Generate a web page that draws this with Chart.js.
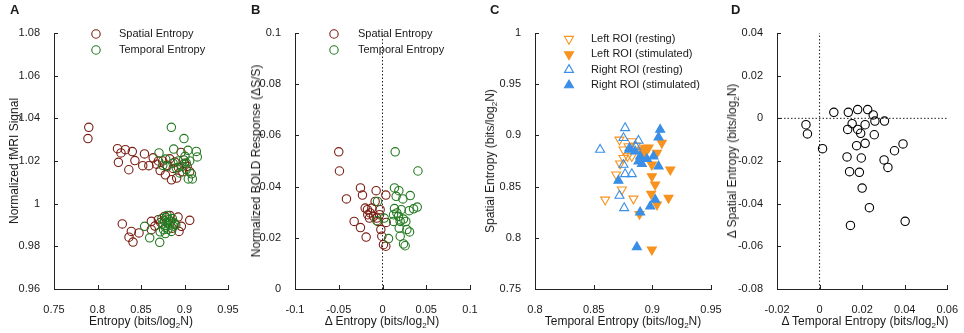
<!DOCTYPE html>
<html>
<head>
<meta charset="utf-8">
<script src="https://cdn.jsdelivr.net/npm/chart.js@4.4.1/dist/chart.umd.min.js"></script>
<style>
  body { margin: 0; background: #fff; width: 964px; height: 333px; position: relative; overflow: hidden;
         font-family: "Liberation Sans", Arial, sans-serif; color: #1a1a1a; }
  canvas { position: absolute; left: 0; top: 0; }
  .lbl { position: absolute; font-size: 12px; white-space: nowrap; transform: translate(-50%, -50%); }
  .ylbl { transform: translate(-50%, -50%) rotate(-90deg); }
  .tag { position: absolute; top: 2px; font-size: 13px; font-weight: bold; }
  sub { font-size: 8px; vertical-align: -3px; line-height: 0; }
</style>
</head>
<body>
<canvas id="panelA" width="964" height="333"></canvas>
<canvas id="panelB" width="964" height="333"></canvas>
<canvas id="panelC" width="964" height="333"></canvas>
<canvas id="panelD" width="964" height="333"></canvas>

<div class="tag" style="left:10px">A</div>
<div class="tag" style="left:251px">B</div>
<div class="tag" style="left:490px">C</div>
<div class="tag" style="left:731px">D</div>

<div class="lbl" style="left:141px;top:321px">Entropy (bits/log<sub>2</sub>N)</div>
<div class="lbl ylbl" style="left:14px;top:161px">Normalized fMRI Signal</div>
<div class="lbl" style="left:382px;top:321px">&Delta; Entropy (bits/log<sub>2</sub>N)</div>
<div class="lbl ylbl" style="left:256px;top:161px">Normalized BOLD Response (&Delta;S/S)</div>
<div class="lbl" style="left:623px;top:321px">Temporal Entropy (bits/log<sub>2</sub>N)</div>
<div class="lbl ylbl" style="left:490px;top:161px">Spatial Entropy (bits/log<sub>2</sub>N)</div>
<div class="lbl" style="left:865px;top:321px">&Delta; Temporal Entropy (bits/log<sub>2</sub>N)</div>
<div class="lbl ylbl" style="left:732px;top:161px">&Delta; Spatial Entropy (bits/log<sub>2</sub>N)</div>

<script>
// ---- panel A: entropy vs normalized fMRI signal
const aSpatialX = [0.790, 0.789, 0.823, 0.827, 0.832, 0.840, 0.854, 0.824, 0.843, 0.836, 0.852, 0.859,
  0.864, 0.868, 0.870, 0.872, 0.875, 0.878, 0.880, 0.883, 0.885, 0.887, 0.889, 0.891, 0.893, 0.896, 0.898, 0.900, 0.903, 0.906,
  0.8285, 0.8389, 0.8362, 0.8408, 0.8477, 0.8619, 0.8619, 0.8926, 0.9060, 0.8964, 0.8937, 0.8833, 0.8726, 0.866, 0.870, 0.889, 0.877, 0.886];
const aSpatialY = [1.0358, 1.0305, 1.0258, 1.0238, 1.0253, 1.0244, 1.0233, 1.0194, 1.0202, 1.0159, 1.0178, 1.0178,
  1.0215, 1.0185, 1.0200, 1.0155, 1.0200, 1.0135, 1.0180, 1.0210, 1.0112, 1.0165, 1.0195, 1.0120, 1.0170, 1.0240, 1.0150, 1.0190, 1.0175, 1.0150,
  0.9905, 0.9870, 0.9843, 0.9820, 0.9863, 0.9917, 0.9878, 0.9937, 0.9922, 0.9894, 0.9870, 0.9944, 0.9912, 0.9895, 0.9925, 0.9905, 0.9940, 0.9885];
const aTemporalX = [0.8849, 0.8994, 0.8876, 0.9040, 0.9136, 0.9147, 0.8707, 0.9006, 0.9044, 0.9090, 0.8944, 0.8906,
  0.8784, 0.8868, 0.9020, 0.8990, 0.875, 0.897, 0.906, 0.902, 0.880, 0.893, 0.908,
  0.8542, 0.860, 0.8715, 0.872, 0.875, 0.877, 0.878, 0.879, 0.880, 0.881, 0.882, 0.883, 0.884, 0.885, 0.886, 0.887,
  0.876, 0.874, 0.888, 0.880, 0.878, 0.890];
const aTemporalY = [1.0358, 1.0305, 1.0256, 1.0250, 1.0245, 1.0219, 1.0238, 1.0222, 1.0116, 1.0116, 1.0144, 1.0167,
  1.0209, 1.0190, 1.0190, 1.0205, 1.0180, 1.0175, 1.0200, 1.0160, 1.0175, 1.0200, 1.0140,
  0.9894, 0.9840, 0.9819, 0.9868, 0.9905, 0.9920, 0.9890, 0.9935, 0.9910, 0.9880, 0.9925, 0.9900, 0.9915, 0.9870, 0.9930, 0.9895,
  0.9878, 0.9930, 0.9910, 0.9945, 0.9860, 0.9900];
const aXTicks = [0.75, 0.8, 0.85, 0.9, 0.95];
const aYTicks = [0.96, 0.98, 1, 1.02, 1.04, 1.06, 1.08];

// ---- panel B: delta entropy vs BOLD response
const bSpatialX = [-0.050, -0.0492, -0.0412, -0.0252, -0.0229, -0.0324, -0.0252, -0.0187, -0.0073, 0.0038, -0.0084,
  -0.0198, -0.0172, -0.0141, -0.0122, -0.0103, -0.0065, -0.0027, -0.0053, -0.0019, -0.0008, 0.0011, 0.0038, 0.0042,
  -0.0034, -0.0149, -0.0168];
const bSpatialY = [0.0536, 0.0461, 0.0352, 0.0395, 0.0367, 0.0264, 0.0240, 0.0203, 0.0384, 0.0367, 0.0342,
  0.0316, 0.0310, 0.0297, 0.0316, 0.0284, 0.0277, 0.0310, 0.0264, 0.0232, 0.0206, 0.0173, 0.0167, 0.0260,
  0.0290, 0.0277, 0.0290];
const bTemporalX = [0.0145, 0.0405, 0.0137, 0.0187, 0.0156, 0.0233, 0.0317, 0.0397, 0.0355, 0.0305, 0.0137, 0.0214,
  0.0164, 0.0126, 0.0183, 0.0240, 0.0202, 0.0267, 0.0126, 0.0191, 0.0279, 0.0309, 0.0202, 0.0069, 0.0240, 0.0259,
  -0.0057, -0.0065, 0.0019];
const bTemporalY = [0.0536, 0.0461, 0.0395, 0.0384, 0.0362, 0.0352, 0.0365, 0.0320, 0.0313, 0.0306, 0.0314, 0.0310,
  0.0297, 0.0290, 0.0284, 0.0273, 0.0264, 0.0264, 0.0264, 0.0238, 0.0232, 0.0223, 0.0206, 0.0197, 0.0176, 0.0169,
  0.0342, 0.0267, 0.0277];
const bXTicks = [-0.1, -0.05, 0, 0.05, 0.1];
const bYTicks = [0, 0.02, 0.04, 0.06, 0.08, 0.1];

// ---- panel C: temporal vs spatial entropy per ROI
const cLeftRestX = [0.8720, 0.8825, 0.8754, 0.8788, 0.8825, 0.8754, 0.8725, 0.8692, 0.8740, 0.8598, 0.8839, 0.8797, 0.8860];
const cLeftRestY = [0.8958, 0.8942, 0.8861, 0.8796, 0.8796, 0.8779, 0.8724, 0.8617, 0.8470, 0.8372, 0.8382, 0.8893, 0.8900];
const cLeftStimX = [0.9081, 0.8939, 0.8968, 0.9039, 0.8925, 0.8996, 0.9153, 0.8996, 0.9024, 0.8990, 0.9138, 0.9039, 0.8891, 0.8996, 0.8910];
const cLeftStimY = [0.8926, 0.8877, 0.8880, 0.8828, 0.8812, 0.8714, 0.8665, 0.8600, 0.8519, 0.8428, 0.8389, 0.8324, 0.8232, 0.7884, 0.8860];
const cRightRestX = [0.8768, 0.8555, 0.8754, 0.8882, 0.8754, 0.8768, 0.8825, 0.8720, 0.8760, 0.8805, 0.8860];
const cRightRestY = [0.9072, 0.8861, 0.8975, 0.8949, 0.8714, 0.8623, 0.8623, 0.8411, 0.8291, 0.8877, 0.8890];
const cRightStimX = [0.9067, 0.9053, 0.8805, 0.8854, 0.8896, 0.8882, 0.8911, 0.9010, 0.8954, 0.9053, 0.8711, 0.9024, 0.8982, 0.8896, 0.8868];
const cRightStimY = [0.9056, 0.8981, 0.8861, 0.8844, 0.8796, 0.8747, 0.8721, 0.8796, 0.8770, 0.8698, 0.8558, 0.8372, 0.8307, 0.8249, 0.7910];
const cXTicks = [0.8, 0.85, 0.9, 0.95];
const cYTicks = [0.75, 0.8, 0.85, 0.9, 0.95, 1];

// ---- panel D: delta temporal vs delta spatial entropy
const dX = [-0.0064, -0.0057, 0.0014, 0.0067, 0.0135, 0.0179, 0.0226, 0.0252, 0.0260, 0.0305,
  0.0132, 0.0153, 0.0179, 0.0193, 0.0214, 0.0257, 0.0174, 0.0214, 0.0392, 0.0352,
  0.0129, 0.0196, 0.0303, 0.0321, 0.0141, 0.0187, 0.0200, 0.0234, 0.0145, 0.0402];
const dY = [-0.0030, -0.0073, -0.0142, 0.0028, 0.0028, 0.0041, 0.0041, 0.0016, -0.0013, -0.0013,
  -0.0052, -0.0025, -0.0052, -0.0070, -0.0030, -0.0077, -0.0128, -0.0117, -0.0120, -0.0152,
  -0.0181, -0.0186, -0.0195, -0.0230, -0.0250, -0.0253, -0.0327, -0.0419, -0.0502, -0.0483];
const dXTicks = [-0.02, 0, 0.02, 0.04, 0.06];
const dYTicks = [-0.08, -0.06, -0.04, -0.02, 0, 0.02, 0.04];

const W = 964, H = 333, TOP = 33, BOTTOM = 289;
const FAMILY = '"Liberation Sans", Arial, sans-serif';
const RED = '#7a1d12', GREEN = '#23791f', ORANGE = '#f7931e', BLUE = '#3a8ee6';

function pts(xs, ys) { return xs.map((x, i) => ({ x, y: ys[i] })); }

function marks(label, xs, ys, color, style, filled, rot, order) {
  return {
    label, data: pts(xs, ys), order,
    pointStyle: style, pointRadius: style === 'triangle' ? 5.2 : 4.2, pointRotation: rot,
    pointBorderWidth: 1.1, borderColor: color, backgroundColor: filled ? color : 'rgba(0,0,0,0)'
  };
}

function dotted(xs, ys) {
  return { data: pts(xs, ys), showLine: true, noLegend: true, order: 9, borderColor: '#222',
    borderWidth: 1, borderDash: [1.5, 2], pointRadius: 0 };
}

function scale(min, max, ticks, isX) {
  return {
    type: 'linear', min, max,
    afterBuildTicks: s => { s.ticks = ticks.map(v => ({ value: v })); },
    afterFit: s => { if (isX) s.height = 30; else s.width = 40; },
    grid: { display: false },
    border: { display: true, color: '#222', width: 1 },
    ticks: { color: '#1a1a1a', padding: 6, autoSkip: false, maxRotation: 0,
      font: { family: FAMILY, size: 11 }, callback: v => String(+(+v).toFixed(4)) }
  };
}

// matlab style ticks pointing into the plot
const inwardTicks = {
  id: 'inwardTicks',
  afterDraw(chart) {
    const { ctx, chartArea: a, scales: { x, y } } = chart;
    ctx.save();
    ctx.strokeStyle = '#222';
    ctx.lineWidth = 1;
    ctx.beginPath();
    x.ticks.forEach(t => { const p = Math.round(x.getPixelForValue(t.value)) + 0.5; ctx.moveTo(p, a.bottom); ctx.lineTo(p, a.bottom - 4); });
    y.ticks.forEach(t => { const p = Math.round(y.getPixelForValue(t.value)) + 0.5; ctx.moveTo(a.left, p); ctx.lineTo(a.left + 4, p); });
    ctx.stroke();
    ctx.restore();
  }
};

function drawMarker(ctx, ds, cx, cy) {
  const r = ds.pointRadius;
  ctx.save();
  ctx.lineWidth = ds.pointBorderWidth;
  ctx.strokeStyle = ds.borderColor;
  ctx.fillStyle = ds.backgroundColor;
  ctx.beginPath();
  if (ds.pointStyle === 'triangle') {
    const rot = (ds.pointRotation || 0) * Math.PI / 180;
    for (let k = 0; k < 3; k++) {
      const ang = rot + k * 2 * Math.PI / 3;
      const px = cx + Math.sin(ang) * r, py = cy - Math.cos(ang) * r;
      if (k) ctx.lineTo(px, py); else ctx.moveTo(px, py);
    }
    ctx.closePath();
  } else {
    ctx.arc(cx, cy, r, 0, 2 * Math.PI);
  }
  ctx.fill();
  ctx.stroke();
  ctx.restore();
}

function miniLegend(symX, textX, y0, rowH) {
  return {
    id: 'miniLegend',
    afterDraw(chart) {
      const ctx = chart.ctx;
      const items = chart.data.datasets.filter(ds => !ds.noLegend);
      items.forEach((ds, i) => {
        const y = y0 + i * rowH;
        drawMarker(ctx, ds, symX, y);
        ctx.save();
        ctx.fillStyle = '#1a1a1a';
        ctx.font = '11px ' + FAMILY;
        ctx.textBaseline = 'middle';
        ctx.fillText(ds.label, textX, y);
        ctx.restore();
      });
    }
  };
}

function panel(id, left, right, xr, yr, xTicks, yTicks, datasets, legend) {
  return new Chart(document.getElementById(id), {
    type: 'scatter',
    data: { datasets },
    options: {
      responsive: false, animation: false, events: [],
      layout: { padding: { left: left - 40, right: W - right, top: TOP, bottom: H - BOTTOM - 30 } },
      plugins: { legend: { display: false }, tooltip: { enabled: false } },
      scales: { x: scale(xr[0], xr[1], xTicks, true), y: scale(yr[0], yr[1], yTicks, false) }
    },
    plugins: legend ? [inwardTicks, legend] : [inwardTicks]
  });
}

panel('panelA', 54, 228, [0.75, 0.95], [0.96, 1.08], aXTicks, aYTicks, [
  marks('Spatial Entropy', aSpatialX, aSpatialY, RED, 'circle', false, 0, 1),
  marks('Temporal Entropy', aTemporalX, aTemporalY, GREEN, 'circle', false, 0, 0)
], miniLegend(96, 119, 34, 16));

panel('panelB', 295, 470, [-0.1, 0.1], [0, 0.1], bXTicks, bYTicks, [
  marks('Spatial Entropy', bSpatialX, bSpatialY, RED, 'circle', false, 0, 1),
  marks('Temporal Entropy', bTemporalX, bTemporalY, GREEN, 'circle', false, 0, 0),
  dotted([0, 0], [0, 0.1])
], miniLegend(334, 358, 34, 16));

panel('panelC', 535, 711, [0.8, 0.95], [0.75, 1], cXTicks, cYTicks, [
  marks('Left ROI (resting)', cLeftRestX, cLeftRestY, ORANGE, 'triangle', false, 180, 3),
  marks('Left ROI (stimulated)', cLeftStimX, cLeftStimY, ORANGE, 'triangle', true, 180, 2),
  marks('Right ROI (resting)', cRightRestX, cRightRestY, BLUE, 'triangle', false, 0, 1),
  marks('Right ROI (stimulated)', cRightStimX, cRightStimY, BLUE, 'triangle', true, 0, 0)
], miniLegend(569, 591, 39, 15.4));

panel('panelD', 777, 952, [-0.02, 0.06], [-0.08, 0.04], dXTicks, dYTicks, [
  marks('', dX, dY, '#000', 'circle', false, 0, 0),
  dotted([0, 0], [-0.08, 0.04]),
  dotted([-0.02, 0.06], [0, 0])
], null);
</script>
</body>
</html>
